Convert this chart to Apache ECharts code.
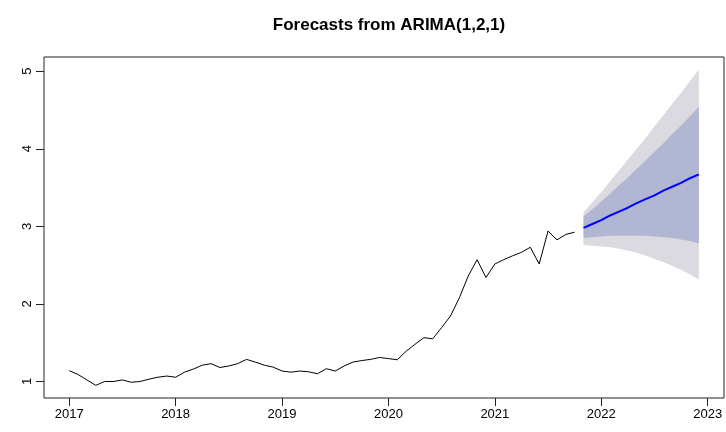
<!DOCTYPE html>
<html>
<head>
<meta charset="utf-8">
<script src="https://cdn.jsdelivr.net/npm/echarts@6/dist/echarts.min.js"></script>
<style>
html,body{margin:0;padding:0;background:#fff;}
#chart{width:726px;height:432px;}
</style>
</head>
<body>
<div id="chart"></div>
<script>
// ---- data ----
var titleText = 'Forecasts from ARIMA(1,2,1)';
var startYear = 2017;          // first observation: Jan 2017
var frequency = 12;            // monthly
var historyValues = [
  1.14, 1.09, 1.02, 0.95, 1.00, 1.00, 1.02, 0.99, 1.00, 1.03, 1.055, 1.07,
  1.055, 1.12, 1.16, 1.21, 1.23, 1.18, 1.20, 1.23, 1.285, 1.25, 1.21, 1.185,
  1.135, 1.12, 1.135, 1.125, 1.10, 1.165, 1.135, 1.20, 1.25, 1.27, 1.285, 1.31,
  1.295, 1.28, 1.39, 1.48, 1.565, 1.55, 1.695, 1.845, 2.08, 2.36, 2.57, 2.34,
  2.515, 2.57, 2.62, 2.665, 2.73, 2.515, 2.94, 2.825, 2.895, 2.925
];
var forecastMean = [2.98, 3.03, 3.08, 3.14, 3.19, 3.24, 3.30, 3.35, 3.40, 3.46, 3.51, 3.56, 3.62, 3.67];
var lower80 = [2.85, 2.86, 2.87, 2.88, 2.88, 2.88, 2.88, 2.88, 2.87, 2.86, 2.85, 2.83, 2.81, 2.78];
var upper80 = [3.13, 3.22, 3.32, 3.42, 3.53, 3.63, 3.74, 3.85, 3.96, 4.07, 4.19, 4.30, 4.42, 4.54];
var lower95 = [2.76, 2.75, 2.74, 2.73, 2.71, 2.69, 2.66, 2.62, 2.58, 2.54, 2.49, 2.44, 2.38, 2.31];
var upper95 = [3.18, 3.31, 3.44, 3.58, 3.72, 3.86, 4.00, 4.14, 4.29, 4.43, 4.58, 4.72, 4.87, 5.02];
var xTicks = [2017, 2018, 2019, 2020, 2021, 2022, 2023];
var yTicks = [1, 2, 3, 4, 5];

// ---- build series data ----
function t(i){ return startYear + i / frequency; }
var histData = historyValues.map(function(v, i){ return [t(i), v]; });
var fStart = historyValues.length;
var fTimes = forecastMean.map(function(v, i){ return t(fStart + i); });
var meanData = forecastMean.map(function(v, i){ return [fTimes[i], v]; });

// R-style 4% axis expansion
var xFirst = t(0), xLast = fTimes[fTimes.length - 1];
var xPad = (xLast - xFirst) * 0.04;
var allY = historyValues.concat(lower95, upper95);
var yMinD = Math.min.apply(null, allY), yMaxD = Math.max.apply(null, allY);
var yPad = (yMaxD - yMinD) * 0.04;

var col95 = '#dadae0';
var col80 = '#b1b6d3';

function bandSeries(name, lo, hi, color, z){
  return {
    name: name, type: 'custom', silent: true, z: z,
    data: [[fTimes[0], lo[0]]],
    encode: { x: 0, y: 1 },
    renderItem: function(params, api){
      var pts = [];
      for (var i = 0; i < fTimes.length; i++) pts.push(api.coord([fTimes[i], hi[i]]));
      for (var j = fTimes.length - 1; j >= 0; j--) pts.push(api.coord([fTimes[j], lo[j]]));
      return { type: 'polygon', shape: { points: pts }, style: { fill: color, stroke: null } };
    }
  };
}

var chart = echarts.init(document.getElementById('chart'), null, { renderer: 'canvas' });
chart.setOption({
  backgroundColor: '#ffffff',
  animation: false,
  title: {
    text: titleText,
    left: 384, top: 12, textAlign: 'center',
    textStyle: { fontFamily: 'Liberation Sans, Arial, sans-serif', fontWeight: 'bold', fontSize: 17, color: '#000' }
  },
  grid: {
    left: 44, right: 2, top: 57, bottom: 34,
    show: true, borderColor: '#222', borderWidth: 1, backgroundColor: 'transparent'
  },
  xAxis: {
    type: 'value',
    min: xFirst - xPad, max: xLast + xPad,
    axisLine: { show: false },
    splitLine: { show: false },
    axisTick: { show: true, customValues: xTicks, length: 8, lineStyle: { color: '#222' } },
    axisLabel: {
      customValues: xTicks, margin: 10, color: '#000', fontSize: 13,
      fontFamily: 'Liberation Sans, Arial, sans-serif',
      formatter: function(v){ return String(Math.round(v)); }
    }
  },
  yAxis: {
    type: 'value',
    min: yMinD - yPad, max: yMaxD + yPad,
    axisLine: { show: false },
    splitLine: { show: false },
    axisTick: { show: true, customValues: yTicks, length: 8, lineStyle: { color: '#222' } },
    axisLabel: {
      customValues: yTicks, margin: 10, rotate: 90, color: '#000', fontSize: 13,
      fontFamily: 'Liberation Sans, Arial, sans-serif',
      formatter: function(v){ return String(Math.round(v)); }
    }
  },
  series: [
    bandSeries('95%', lower95, upper95, col95, 1),
    bandSeries('80%', lower80, upper80, col80, 2),
    {
      name: 'history', type: 'line', data: histData, symbol: 'none',
      lineStyle: { color: '#000', width: 1 }, z: 3
    },
    {
      name: 'mean', type: 'line', data: meanData, symbol: 'none',
      lineStyle: { color: '#0000ff', width: 2 }, z: 4
    }
  ]
});
</script>
</body>
</html>
